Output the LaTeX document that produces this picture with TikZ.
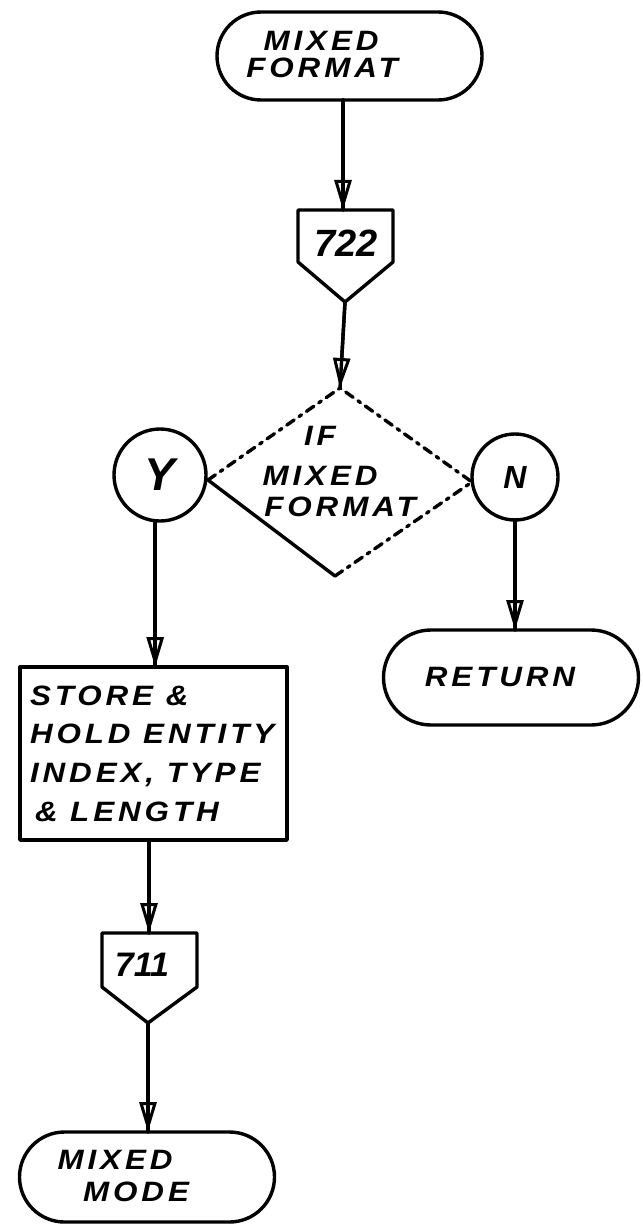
\documentclass[tikz,border=0pt]{standalone}
\usepackage{fontspec}
\newfontfamily\hand[FakeStretch=1.12,LetterSpace=14]{Liberation Sans}
\newfontfamily\handnum{Liberation Sans}
\usetikzlibrary{arrows.meta,shapes.misc}
\begin{document}
\begin{tikzpicture}[x=1pt,y=-1pt,
  every node/.style={inner sep=0pt, outer sep=0pt},
  ln/.style={line width=3.4pt, line cap=round, line join=round},
  term/.style={ln, draw, rounded rectangle},
  txt/.style={font=\hand\bfseries\itshape\fontsize{28}{28}\selectfont},
  num/.style={font=\handnum\bfseries\itshape\fontsize{#1}{#1}\selectfont},
  flow/.style={ln, -{Triangle[open, length=30pt, width=17pt, line width=3pt]}, postaction={draw, -}},
  dsh/.style={ln, dash pattern=on 9pt off 6pt on 3pt off 6pt},
]
\useasboundingbox (0,0) rectangle (642,1225);
\fill[white] (0,0) rectangle (642,1225);

% top terminal
\node[term, minimum width=265pt, minimum height=88pt] (t1) at (349.5,56) {};
\node[txt] (t1a) at (321,41) {MIXED};
\node[txt] (t1b) at (322,68) {FORMAT};

% off-page connector 722
\coordinate (p1a) at (298,210);
\coordinate (p1b) at (393,210);
\coordinate (p1c) at (393,262);
\coordinate (p1d) at (345,302);
\coordinate (p1e) at (298,262);
\coordinate (p1top) at (343,210);
\draw[ln] (p1a) -- (p1b) -- (p1c) -- (p1d) -- (p1e) -- cycle;
\node[num=38] (n722) at (346,243) {722};

% decision
\coordinate (dT) at (340,388);
\coordinate (dL) at (208,480);
\coordinate (dB) at (335,576);
\coordinate (dR) at (472,482);
\draw[dsh] (dL) -- (dT) -- (dR) -- (dB);
\draw[ln] (dL) -- (dB);
\node[txt] (q1) at (320,436) {IF};
\node[txt] (q2) at (320,476) {MIXED};
\node[txt] (q3) at (340,507) {FORMAT};

% Y / N circles
\node[ln, draw, circle, minimum size=92pt, num=46] (Y) at (160,475) {Y};
\node[ln, draw, circle, minimum size=86pt, num=32] (N) at (515,477) {N};

% process box
\node[ln, draw, rectangle, minimum width=267pt, minimum height=173pt] (box) at (153.5,753.5) {};
\node[txt, anchor=base west] (b1) at (30,705) {STORE \&};
\node[txt, anchor=base west] (b2) at (30,743) {HOLD ENTITY};
\node[txt, anchor=base west] (b3) at (30,782) {INDEX, TYPE};
\node[txt, anchor=base west] (b4) at (35,821) {\& LENGTH};

% return terminal
\node[term, minimum width=255pt, minimum height=95pt] (ret) at (511,677.5) {};
\node[txt] (rett) at (500,677) {RETURN};

% off-page connector 711
\coordinate (p2a) at (102,933);
\coordinate (p2b) at (197,933);
\coordinate (p2c) at (197,987);
\coordinate (p2d) at (148,1023);
\coordinate (p2e) at (102,987);
\coordinate (p2top) at (149,933);
\draw[ln] (p2a) -- (p2b) -- (p2c) -- (p2d) -- (p2e) -- cycle;
\node[num=34] (n711) at (142,965) {711};

% bottom terminal
\node[term, minimum width=255pt, minimum height=90pt] (mm) at (147,1177) {};
\node[txt] (mm1) at (115,1160) {MIXED};
\node[txt] (mm2) at (136,1192) {MODE};

% connectors
\draw[flow] (p1top |- t1.south) -- (p1top);
\draw[flow] (p1d) -- (dT);
\draw[flow] (Y.-96) -- (Y.-96 |- box.north);
\draw[flow] (N.south) -- (N.south |- ret.north);
\draw[flow] (p2top |- box.south) -- (p2top);
\draw[flow] (p2d) -- (p2d |- mm.north);
\end{tikzpicture}
\end{document}
